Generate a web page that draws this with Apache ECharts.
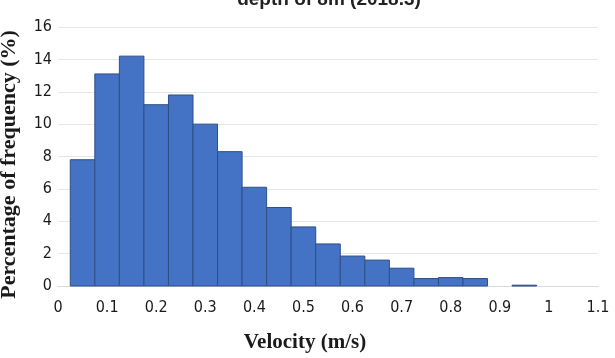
<!DOCTYPE html>
<html>
<head>
<meta charset="utf-8">
<script src="https://cdn.jsdelivr.net/npm/echarts@6/dist/echarts.min.js"></script>
<style>
    html, body { margin: 0; padding: 0; background: #fff; }
    #main { width: 615px; height: 358px; }
</style>
</head>
<body>
<div id="main"></div>
<script>
    // bin centres (m/s) and frequency (%)
    var binCenters = [0.05, 0.1, 0.15, 0.2, 0.25, 0.3, 0.35, 0.4, 0.45, 0.5, 0.55, 0.6, 0.65, 0.7, 0.75, 0.8, 0.85, 0.9, 0.95];
    var frequency = [7.8, 13.1, 14.2, 11.2, 11.8, 10.0, 8.3, 6.1, 4.85, 3.65, 2.6, 1.85, 1.6, 1.1, 0.46, 0.52, 0.46, 0, 0.05];
    var binWidth = 0.05;
    var yTicks = [0, 2, 4, 6, 8, 10, 12, 14, 16];

    var tickFont = "'DejaVu Sans Condensed', Roboto, sans-serif";

    var chart = echarts.init(document.getElementById('main'));

    var seriesData = binCenters.map(function (c, i) { return [c, frequency[i]]; });

    chart.setOption({
        animation: false,
        title: {
            text: 'depth of 8m (2018.3)',
            left: 324,
            textAlign: 'center',
            top: -15,
            textStyle: { fontFamily: 'Liberation Sans', fontWeight: 'bold', fontSize: 19, color: '#222' }
        },
        grid: { left: 58, right: 17, top: 27, bottom: 72, outerBoundsMode: 'none', containLabel: false },
        xAxis: {
            type: 'value',
            min: 0,
            max: 1.1,
            interval: 0.1,
            name: 'Velocity (m/s)',
            nameLocation: 'middle',
            nameGap: 46,
            nameTextStyle: { fontFamily: 'Liberation Serif', fontWeight: 'bold', fontSize: 21, color: '#1a1a1a', padding: [0, 46, 0, 0] },
            axisLine: { show: true, lineStyle: { color: '#d9d9d9' } },
            axisTick: { show: false },
            splitLine: { show: false },
            axisLabel: {
                margin: 14,
                fontFamily: tickFont,
                fontSize: 16,
                color: '#1a1a1a',
                formatter: function (v) { return String(Math.round(v * 10) / 10); }
            }
        },
        yAxis: {
            type: 'value',
            min: yTicks[0],
            max: yTicks[yTicks.length - 1],
            interval: 2,
            name: 'Percentage of frequency (%)',
            nameLocation: 'middle',
            nameGap: 38,
            nameTextStyle: { fontFamily: 'Liberation Serif', fontWeight: 'bold', fontSize: 22, color: '#1a1a1a', padding: [0, 16, 0, 0] },
            axisLine: { show: false },
            axisTick: { show: false },
            splitLine: { lineStyle: { color: '#e6e6e6' } },
            axisLabel: {
                margin: 6,
                fontFamily: tickFont,
                fontSize: 16,
                color: '#1a1a1a'
            }
        },
        series: [{
            type: 'custom',
            data: seriesData,
            encode: { x: 0, y: 1 },
            renderItem: function (params, api) {
                var c = api.value(0);
                var v = api.value(1);
                if (!v) return null;
                var p0 = api.coord([c - binWidth / 2, v]);
                var p1 = api.coord([c + binWidth / 2, 0]);
                return {
                    type: 'rect',
                    shape: { x: p0[0], y: p0[1], width: p1[0] - p0[0], height: p1[1] - p0[1] },
                    style: { fill: '#4472c4', stroke: '#2f4f85', lineWidth: 1 }
                };
            }
        }]
    });
</script>
</body>
</html>
